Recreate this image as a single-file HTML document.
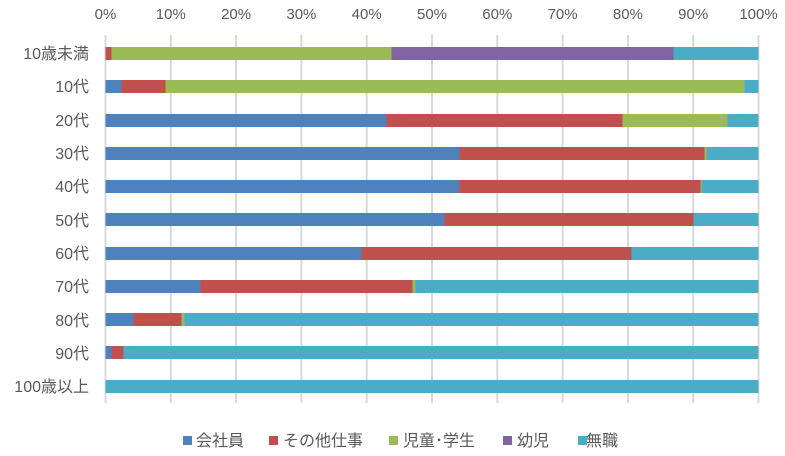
<!DOCTYPE html>
<html><head><meta charset="utf-8"><style>body{margin:0;background:#fff}svg{display:block}text{font-family:"Liberation Sans","Noto Sans CJK JP",sans-serif;fill:#595959}</style></head><body>
<svg width="785" height="456" xmlns="http://www.w3.org/2000/svg">
<g stroke="#d9d9d9" stroke-width="2">
<line x1="105.5" y1="35" x2="105.5" y2="403"/><line x1="170.8" y1="35" x2="170.8" y2="403"/><line x1="236.1" y1="35" x2="236.1" y2="403"/><line x1="301.4" y1="35" x2="301.4" y2="403"/><line x1="366.7" y1="35" x2="366.7" y2="403"/><line x1="432" y1="35" x2="432" y2="403"/><line x1="497.3" y1="35" x2="497.3" y2="403"/><line x1="562.6" y1="35" x2="562.6" y2="403"/><line x1="627.9" y1="35" x2="627.9" y2="403"/><line x1="693.2" y1="35" x2="693.2" y2="403"/><line x1="758.5" y1="35" x2="758.5" y2="403"/>
</g>
<g font-size="15" text-anchor="middle">
<text x="105.5" y="19">0%</text><text x="170.8" y="19">10%</text><text x="236.1" y="19">20%</text><text x="301.4" y="19">30%</text><text x="366.7" y="19">40%</text><text x="432" y="19">50%</text><text x="497.3" y="19">60%</text><text x="562.6" y="19">70%</text><text x="627.9" y="19">80%</text><text x="693.2" y="19">90%</text><text x="758.5" y="19">100%</text>
</g>
<g font-size="16" text-anchor="end">
<text x="89" y="59">10歳未満</text><text x="89" y="92">10代</text><text x="89" y="126">20代</text><text x="89" y="159">30代</text><text x="89" y="192">40代</text><text x="89" y="226">50代</text><text x="89" y="259">60代</text><text x="89" y="292">70代</text><text x="89" y="326">80代</text><text x="89" y="359">90代</text><text x="89" y="392">100歳以上</text>
</g>
<g>
<rect x="105.5" y="47" width="6" height="13" fill="#c0504d"/><rect x="111.5" y="47" width="280" height="13" fill="#9bbb59"/><rect x="391.5" y="47" width="282" height="13" fill="#8064a2"/><rect x="673.5" y="47" width="85" height="13" fill="#4bacc6"/>
<rect x="105.5" y="80" width="16" height="13" fill="#4f81bd"/><rect x="121.5" y="80" width="44" height="13" fill="#c0504d"/><rect x="165.5" y="80" width="579" height="13" fill="#9bbb59"/><rect x="744.5" y="80" width="14" height="13" fill="#4bacc6"/>
<rect x="105.5" y="114" width="281" height="13" fill="#4f81bd"/><rect x="386.5" y="114" width="236" height="13" fill="#c0504d"/><rect x="622.5" y="114" width="105" height="13" fill="#9bbb59"/><rect x="727.5" y="114" width="31" height="13" fill="#4bacc6"/>
<rect x="105.5" y="147" width="354" height="13" fill="#4f81bd"/><rect x="459.5" y="147" width="245" height="13" fill="#c0504d"/><rect x="704.5" y="147" width="2" height="13" fill="#9bbb59"/><rect x="706.5" y="147" width="52" height="13" fill="#4bacc6"/>
<rect x="105.5" y="180" width="354" height="13" fill="#4f81bd"/><rect x="459.5" y="180" width="241" height="13" fill="#c0504d"/><rect x="700.5" y="180" width="1" height="13" fill="#9bbb59"/><rect x="701.5" y="180" width="57" height="13" fill="#4bacc6"/>
<rect x="105.5" y="213" width="339" height="13" fill="#4f81bd"/><rect x="444.5" y="213" width="249" height="13" fill="#c0504d"/><rect x="693.5" y="213" width="65" height="13" fill="#4bacc6"/>
<rect x="105.5" y="247" width="256" height="13" fill="#4f81bd"/><rect x="361.5" y="247" width="270" height="13" fill="#c0504d"/><rect x="631.5" y="247" width="127" height="13" fill="#4bacc6"/>
<rect x="105.5" y="280" width="95" height="13" fill="#4f81bd"/><rect x="200.5" y="280" width="212" height="13" fill="#c0504d"/><rect x="412.5" y="280" width="3" height="13" fill="#9bbb59"/><rect x="415.5" y="280" width="343" height="13" fill="#4bacc6"/>
<rect x="105.5" y="313" width="28" height="13" fill="#4f81bd"/><rect x="133.5" y="313" width="48" height="13" fill="#c0504d"/><rect x="181.5" y="313" width="3" height="13" fill="#9bbb59"/><rect x="184.5" y="313" width="574" height="13" fill="#4bacc6"/>
<rect x="105.5" y="346" width="6" height="13" fill="#4f81bd"/><rect x="111.5" y="346" width="12" height="13" fill="#c0504d"/><rect x="123.5" y="346" width="635" height="13" fill="#4bacc6"/>
<rect x="105.5" y="380" width="653" height="13" fill="#4bacc6"/>
</g>
<g font-size="16">
<rect x="183" y="436" width="9" height="9" fill="#4f81bd"/><text x="196" y="446">会社員</text>
<rect x="269" y="436" width="9" height="9" fill="#c0504d"/><text x="283" y="446">その他仕事</text>
<rect x="389" y="436" width="9" height="9" fill="#9bbb59"/><text x="403" y="446">児童･学生</text>
<rect x="503" y="436" width="9" height="9" fill="#8064a2"/><text x="517" y="446">幼児</text>
<rect x="578" y="436" width="9" height="9" fill="#4bacc6"/><text x="586" y="446">無職</text>
</g>
</svg>
</body></html>
